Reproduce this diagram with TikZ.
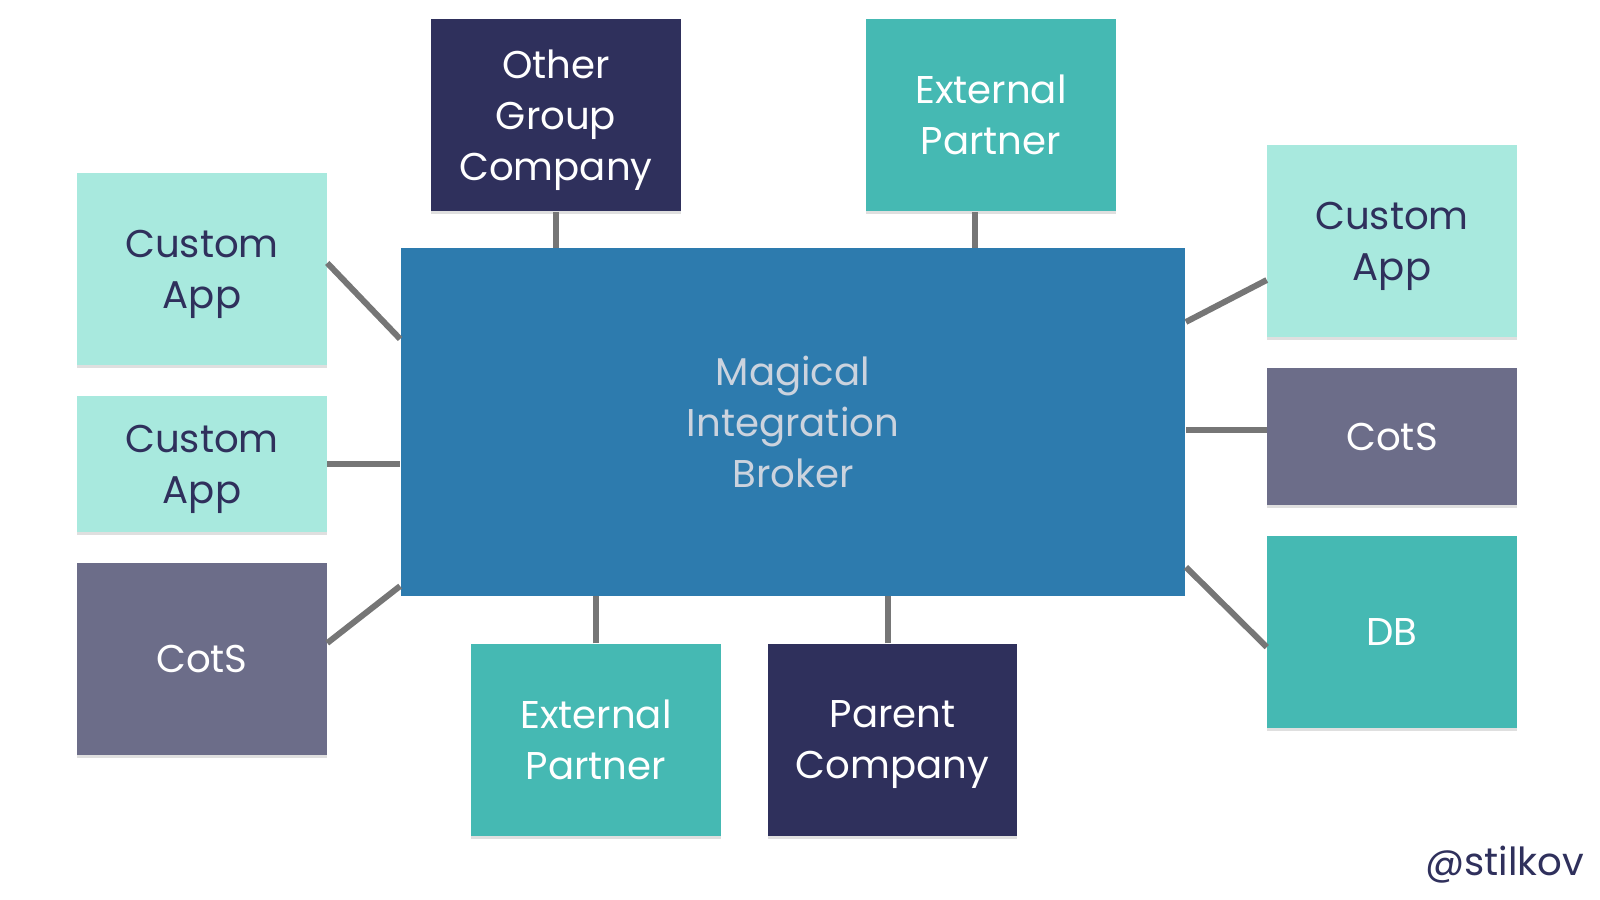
\documentclass[tikz,border=0pt]{standalone}
\usepackage{fontspec}
\setmainfont{Poppins}
\definecolor{mint}{HTML}{A8E9DE}
\definecolor{teal}{HTML}{45B9B3}
\definecolor{navy}{HTML}{2F305C}
\definecolor{slate}{HTML}{6C6D89}
\definecolor{brokerblue}{HTML}{2D7BAE}
\definecolor{linkgrey}{HTML}{767676}
\definecolor{brokertext}{HTML}{CBD3DE}
\usetikzlibrary{positioning,shadows}

\begin{document}
\begin{tikzpicture}[x=0.01cm,y=-0.01cm,node distance=3mm and 4.6mm,
    sys/.style={minimum width=24.9mm,minimum height=19.2mm,align=center,inner sep=0pt,text depth=0pt,
      font=\fontsize{11}{14.5}\selectfont,drop shadow={shadow xshift=0pt,shadow yshift=-0.3mm,opacity=0.25}},
    light/.style={sys,fill=mint,text=navy},
    tealbox/.style={sys,fill=teal,text=white},
    dark/.style={sys,fill=navy,text=white},
    cots/.style={sys,fill=slate,text=white},
    link/.style={linkgrey,line width=1.7pt}]
    \useasboundingbox (0,0) rectangle (1600,900);
    \node[fill=brokerblue,text=brokertext,minimum width=78.4mm,minimum height=34.7mm,align=center,
      font=\fontsize{11}{14.5}\selectfont] (broker) at (793,422) {Magical\\Integration\\Broker};
    % left column
    \node[light] (appA) at (202,269) {Custom\\App};
    \node[light,minimum height=13.5mm,below=of appA] (appB) {Custom\\App};
    \node[cots,below=of appB] (cotsL) {CotS};
    % top row
    \node[dark] (other) at (556,115) {Other\\Group\\Company};
    \node[tealbox] (extA) at (991,115) {External\\Partner};
    % right column
    \node[light] (appR) at (1392,241) {Custom\\App};
    \node[cots,minimum height=13.6mm,below=of appR] (cotsR) {CotS};
    \node[tealbox,below=of cotsR] (db) {DB};
    % bottom row
    \node[tealbox] (extB) at (596,740) {External\\Partner};
    \node[dark,right=of extB] (parent) {Parent\\Company};
    \node[anchor=base east,text=navy,inner sep=0pt,font=\fontsize{11}{13}\selectfont] (handle) at (1585,875) {@stilkov};
    % links
    \draw[link] ([yshift=0.6mm]appA.east) -- ([yshift=8.3mm]broker.west);
    \draw[link] (appB.east) -- (appB.east -| broker.west);
    \draw[link] ([yshift=1.6mm]cotsL.east) -- ([yshift=-16.4mm]broker.west);
    \draw[link] (other.south) -- (other.south |- broker.north);
    \draw[link] ([xshift=-1.6mm]extA.south) -- ([xshift=-1.6mm]extA.south |- broker.north);
    \draw[link] ([yshift=10mm]broker.east) -- ([yshift=-3.9mm]appR.west);
    \draw[link] ([yshift=0.7mm]cotsR.west) -- ([yshift=0.7mm]cotsR.west -| broker.east);
    \draw[link] ([yshift=-14.5mm]broker.east) -- ([yshift=-1.5mm]db.west);
    \draw[link] (extB.north) -- (extB.north |- broker.south);
    \draw[link] ([xshift=-0.5mm]parent.north) -- ([xshift=-0.5mm]parent.north |- broker.south);
  \end{tikzpicture}
\end{document}
